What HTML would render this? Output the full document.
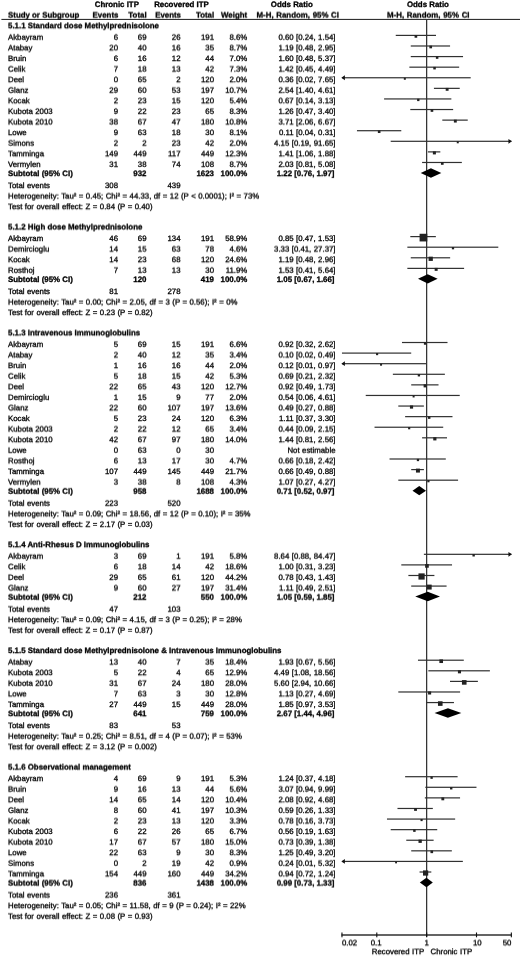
<!DOCTYPE html>
<html><head><meta charset="utf-8"><title>Forest plot</title>
<style>
html,body{margin:0;padding:0;background:#fff;}
svg{display:block;}
text{font-family:"Liberation Sans",Arial,Helvetica,sans-serif;font-size:7.82px;fill:#000;stroke:#000;stroke-width:0.3px;text-rendering:geometricPrecision;word-spacing:0.31px;}
.b{font-weight:bold;font-size:7.88px;word-spacing:0;}
.w{word-spacing:0.5px;}
</style></head><body>
<svg width="520" height="956" viewBox="0 0 520 956">
<rect width="520" height="956" fill="#fff"/>
<g id="shapes">
<rect x="1.4" y="18.9" width="518.6" height="1" fill="#1a1a1a"/>
<rect x="426.05" y="19.4" width="1.2" height="917.60" fill="#2a2a2a"/>
<rect x="395.75" y="34.80" width="40.24" height="1.2" fill="#303030"/>
<rect x="414.56" y="35.07" width="2.66" height="2.66" fill="#222"/>
<rect x="410.76" y="45.39" width="39.31" height="1.2" fill="#303030"/>
<rect x="429.38" y="45.66" width="2.67" height="2.67" fill="#222"/>
<rect x="410.76" y="55.98" width="52.28" height="1.2" fill="#303030"/>
<rect x="435.88" y="56.33" width="2.50" height="2.50" fill="#222"/>
<rect x="409.36" y="66.57" width="49.80" height="1.2" fill="#303030"/>
<rect x="433.28" y="66.90" width="2.53" height="2.53" fill="#222"/>
<rect x="341.96" y="77.16" width="128.74" height="1.2" fill="#303030"/>
<path d="M341.36 77.76l3.5 -2.4v4.8z" fill="#111"/>
<rect x="403.83" y="77.76" width="2.00" height="2.00" fill="#222"/>
<rect x="433.93" y="87.75" width="25.80" height="1.2" fill="#303030"/>
<rect x="445.70" y="87.91" width="2.87" height="2.87" fill="#222"/>
<rect x="384.08" y="98.34" width="67.27" height="1.2" fill="#303030"/>
<rect x="417.11" y="98.77" width="2.34" height="2.34" fill="#222"/>
<rect x="410.30" y="108.93" width="42.84" height="1.2" fill="#303030"/>
<rect x="430.64" y="109.21" width="2.63" height="2.63" fill="#222"/>
<rect x="442.30" y="119.52" width="25.44" height="1.2" fill="#303030"/>
<rect x="453.89" y="119.68" width="2.88" height="2.88" fill="#222"/>
<rect x="356.96" y="130.11" width="44.33" height="1.2" fill="#303030"/>
<rect x="377.86" y="130.41" width="2.61" height="2.61" fill="#222"/>
<rect x="390.70" y="140.70" width="120.65" height="1.2" fill="#303030"/>
<path d="M511.94 141.30l-3.5 -2.4v4.8z" fill="#111"/>
<rect x="456.76" y="141.30" width="2.00" height="2.00" fill="#222"/>
<rect x="427.91" y="151.29" width="12.41" height="1.2" fill="#303030"/>
<rect x="432.87" y="151.38" width="3.03" height="3.03" fill="#222"/>
<rect x="422.09" y="161.88" width="39.75" height="1.2" fill="#303030"/>
<rect x="440.94" y="162.14" width="2.67" height="2.67" fill="#222"/>
<path d="M420.71 172.97L430.96 168.27L441.33 172.97L430.96 177.67z" fill="#000"/>
<rect x="410.30" y="236.01" width="25.55" height="1.2" fill="#303030"/>
<rect x="419.59" y="233.76" width="7.69" height="7.69" fill="#222"/>
<rect x="407.35" y="246.60" width="90.95" height="1.2" fill="#303030"/>
<rect x="451.86" y="247.07" width="2.26" height="2.26" fill="#222"/>
<rect x="410.76" y="257.19" width="39.38" height="1.2" fill="#303030"/>
<rect x="428.59" y="256.66" width="4.26" height="4.26" fill="#222"/>
<rect x="407.35" y="267.78" width="56.75" height="1.2" fill="#303030"/>
<rect x="434.66" y="267.88" width="2.99" height="2.99" fill="#222"/>
<path d="M417.98 278.87L427.71 274.17L437.62 278.87L427.71 283.57z" fill="#000"/>
<rect x="401.98" y="341.91" width="45.52" height="1.2" fill="#303030"/>
<rect x="423.91" y="342.28" width="2.46" height="2.46" fill="#222"/>
<rect x="341.96" y="352.50" width="69.25" height="1.2" fill="#303030"/>
<rect x="376.03" y="353.03" width="2.14" height="2.14" fill="#222"/>
<rect x="341.96" y="363.09" width="84.03" height="1.2" fill="#303030"/>
<path d="M341.36 363.69l3.5 -2.4v4.8z" fill="#111"/>
<rect x="380.05" y="363.69" width="2.00" height="2.00" fill="#222"/>
<rect x="392.86" y="373.68" width="52.01" height="1.2" fill="#303030"/>
<rect x="417.75" y="374.12" width="2.33" height="2.33" fill="#222"/>
<rect x="411.21" y="384.27" width="27.31" height="1.2" fill="#303030"/>
<rect x="423.61" y="384.33" width="3.07" height="3.07" fill="#222"/>
<rect x="365.74" y="394.86" width="93.99" height="1.2" fill="#303030"/>
<rect x="412.61" y="395.46" width="2.00" height="2.00" fill="#222"/>
<rect x="398.30" y="405.45" width="25.58" height="1.2" fill="#303030"/>
<rect x="409.93" y="405.47" width="3.16" height="3.16" fill="#222"/>
<rect x="405.12" y="416.04" width="47.37" height="1.2" fill="#303030"/>
<rect x="427.99" y="416.43" width="2.43" height="2.43" fill="#222"/>
<rect x="374.52" y="426.63" width="68.70" height="1.2" fill="#303030"/>
<rect x="408.11" y="427.16" width="2.14" height="2.14" fill="#222"/>
<rect x="422.09" y="437.22" width="24.91" height="1.2" fill="#303030"/>
<rect x="433.24" y="437.22" width="3.20" height="3.20" fill="#222"/>
<rect x="389.53" y="458.40" width="56.26" height="1.2" fill="#303030"/>
<rect x="416.82" y="458.87" width="2.27" height="2.27" fill="#222"/>
<rect x="411.21" y="468.99" width="12.68" height="1.2" fill="#303030"/>
<rect x="415.97" y="468.61" width="3.97" height="3.97" fill="#222"/>
<rect x="398.30" y="479.58" width="59.77" height="1.2" fill="#303030"/>
<rect x="427.30" y="480.06" width="2.23" height="2.23" fill="#222"/>
<path d="M412.49 490.67L419.24 485.97L425.99 490.67L419.24 495.37z" fill="#000"/>
<rect x="423.88" y="553.71" width="87.46" height="1.2" fill="#303030"/>
<path d="M511.94 554.31l-3.5 -2.4v4.8z" fill="#111"/>
<rect x="472.45" y="554.12" width="2.38" height="2.38" fill="#222"/>
<rect x="401.29" y="564.30" width="50.74" height="1.2" fill="#303030"/>
<rect x="425.12" y="564.07" width="3.66" height="3.66" fill="#222"/>
<rect x="408.38" y="574.89" width="26.02" height="1.2" fill="#303030"/>
<rect x="418.46" y="573.38" width="6.22" height="6.22" fill="#222"/>
<rect x="411.21" y="585.48" width="35.37" height="1.2" fill="#303030"/>
<rect x="426.74" y="584.61" width="4.94" height="4.94" fill="#222"/>
<path d="M415.23 596.57L427.71 591.87L439.97 596.57L427.71 601.27z" fill="#000"/>
<rect x="417.98" y="659.61" width="45.81" height="1.2" fill="#303030"/>
<rect x="439.37" y="659.39" width="3.64" height="3.64" fill="#222"/>
<rect x="428.32" y="670.20" width="61.57" height="1.2" fill="#303030"/>
<rect x="457.92" y="670.25" width="3.09" height="3.09" fill="#222"/>
<rect x="450.00" y="680.79" width="27.89" height="1.2" fill="#303030"/>
<rect x="461.95" y="680.09" width="4.60" height="4.60" fill="#222"/>
<rect x="398.30" y="691.38" width="61.80" height="1.2" fill="#303030"/>
<rect x="428.06" y="691.44" width="3.08" height="3.08" fill="#222"/>
<rect x="425.99" y="701.97" width="27.97" height="1.2" fill="#303030"/>
<rect x="437.97" y="701.27" width="4.60" height="4.60" fill="#222"/>
<path d="M434.54 713.06L447.91 708.36L461.32 713.06L447.91 717.76z" fill="#000"/>
<rect x="405.12" y="776.10" width="52.49" height="1.2" fill="#303030"/>
<rect x="430.44" y="776.53" width="2.33" height="2.33" fill="#222"/>
<rect x="425.31" y="786.69" width="51.17" height="1.2" fill="#303030"/>
<rect x="450.05" y="787.11" width="2.36" height="2.36" fill="#222"/>
<rect x="424.84" y="797.28" width="35.22" height="1.2" fill="#303030"/>
<rect x="441.39" y="797.46" width="2.84" height="2.84" fill="#222"/>
<rect x="397.49" y="807.87" width="35.34" height="1.2" fill="#303030"/>
<rect x="414.11" y="808.05" width="2.83" height="2.83" fill="#222"/>
<rect x="386.98" y="818.46" width="68.17" height="1.2" fill="#303030"/>
<rect x="420.51" y="818.99" width="2.13" height="2.13" fill="#222"/>
<rect x="390.70" y="829.05" width="46.53" height="1.2" fill="#303030"/>
<rect x="413.16" y="829.41" width="2.47" height="2.47" fill="#222"/>
<rect x="406.26" y="839.64" width="27.36" height="1.2" fill="#303030"/>
<rect x="418.49" y="839.59" width="3.30" height="3.30" fill="#222"/>
<rect x="411.21" y="850.23" width="40.63" height="1.2" fill="#303030"/>
<rect x="430.47" y="850.51" width="2.63" height="2.63" fill="#222"/>
<rect x="341.96" y="860.82" width="120.88" height="1.2" fill="#303030"/>
<path d="M341.36 861.42l3.5 -2.4v4.8z" fill="#111"/>
<rect x="395.11" y="861.47" width="1.89" height="1.89" fill="#222"/>
<rect x="419.54" y="871.41" width="11.77" height="1.2" fill="#303030"/>
<rect x="423.00" y="870.40" width="5.22" height="5.22" fill="#222"/>
<path d="M419.84 882.50L426.43 877.80L432.82 882.50L426.43 887.20z" fill="#000"/>
<rect x="341.46" y="934.35" width="170.39" height="1.3" fill="#111"/>
<rect x="341.41" y="932.5" width="1.1" height="4.8" fill="#111"/>
<rect x="376.25" y="932.5" width="1.1" height="4.8" fill="#111"/>
<rect x="426.10" y="932.5" width="1.1" height="4.8" fill="#111"/>
<rect x="475.95" y="932.5" width="1.1" height="4.8" fill="#111"/>
<rect x="510.79" y="932.5" width="1.1" height="4.8" fill="#111"/>
</g>
<defs>
<filter id="sh1" x="0" y="0" width="520" height="956" filterUnits="userSpaceOnUse" color-interpolation-filters="sRGB"><feConvolveMatrix order="1 2" kernelMatrix="0.9 0.1" targetX="0" targetY="1" edgeMode="none" preserveAlpha="false"/></filter>
<filter id="sh2" x="0" y="0" width="520" height="956" filterUnits="userSpaceOnUse" color-interpolation-filters="sRGB"><feConvolveMatrix order="1 2" kernelMatrix="0.8 0.2" targetX="0" targetY="1" edgeMode="none" preserveAlpha="false"/></filter>
<filter id="sh3" x="0" y="0" width="520" height="956" filterUnits="userSpaceOnUse" color-interpolation-filters="sRGB"><feConvolveMatrix order="1 2" kernelMatrix="0.7 0.3" targetX="0" targetY="1" edgeMode="none" preserveAlpha="false"/></filter>
<filter id="sh4" x="0" y="0" width="520" height="956" filterUnits="userSpaceOnUse" color-interpolation-filters="sRGB"><feConvolveMatrix order="1 2" kernelMatrix="0.6 0.4" targetX="0" targetY="1" edgeMode="none" preserveAlpha="false"/></filter>
<filter id="sh5" x="0" y="0" width="520" height="956" filterUnits="userSpaceOnUse" color-interpolation-filters="sRGB"><feConvolveMatrix order="1 2" kernelMatrix="0.5 0.5" targetX="0" targetY="1" edgeMode="none" preserveAlpha="false"/></filter>
<filter id="sh6" x="0" y="0" width="520" height="956" filterUnits="userSpaceOnUse" color-interpolation-filters="sRGB"><feConvolveMatrix order="1 2" kernelMatrix="0.4 0.6" targetX="0" targetY="1" edgeMode="none" preserveAlpha="false"/></filter>
<filter id="sh7" x="0" y="0" width="520" height="956" filterUnits="userSpaceOnUse" color-interpolation-filters="sRGB"><feConvolveMatrix order="1 2" kernelMatrix="0.3 0.7" targetX="0" targetY="1" edgeMode="none" preserveAlpha="false"/></filter>
<filter id="sh8" x="0" y="0" width="520" height="956" filterUnits="userSpaceOnUse" color-interpolation-filters="sRGB"><feConvolveMatrix order="1 2" kernelMatrix="0.2 0.8" targetX="0" targetY="1" edgeMode="none" preserveAlpha="false"/></filter>
<filter id="sh9" x="0" y="0" width="520" height="956" filterUnits="userSpaceOnUse" color-interpolation-filters="sRGB"><feConvolveMatrix order="1 2" kernelMatrix="0.1 0.9" targetX="0" targetY="1" edgeMode="none" preserveAlpha="false"/></filter>
</defs>
<g id="labels0">
<text x="116.85" y="7" text-anchor="middle" class="b">Chronic ITP</text>
<text x="181.50" y="7" text-anchor="middle" class="b">Recovered ITP</text>
<text x="291.85" y="7" text-anchor="middle" class="b">Odds Ratio</text>
<text x="427.90" y="7" text-anchor="middle" class="b">Odds Ratio</text>
<text x="8.00" y="61">Bruin</text>
<text x="118.00" y="61" text-anchor="end">6</text>
<text x="146.50" y="61" text-anchor="end">16</text>
<text x="180.50" y="61" text-anchor="end">12</text>
<text x="214.00" y="61" text-anchor="end">44</text>
<text x="247.30" y="61" text-anchor="end">7.0%</text>
<text x="335.50" y="61" text-anchor="end">1.60 [0.48, 5.37]</text>
<text x="8.00" y="241">Akbayram</text>
<text x="118.00" y="241" text-anchor="end">46</text>
<text x="146.50" y="241" text-anchor="end">69</text>
<text x="180.50" y="241" text-anchor="end">134</text>
<text x="214.00" y="241" text-anchor="end">191</text>
<text x="247.30" y="241" text-anchor="end">58.9%</text>
<text x="335.50" y="241" text-anchor="end">0.85 [0.47, 1.53]</text>
<text x="8.00" y="282" class="b">Subtotal (95% CI)</text>
<text x="146.50" y="282" text-anchor="end" class="b">120</text>
<text x="214.00" y="282" text-anchor="end" class="b">419</text>
<text x="247.30" y="282" text-anchor="end" class="b">100.0%</text>
<text x="334.50" y="282" text-anchor="end" class="b">1.05 [0.67, 1.66]</text>
<text x="8.00" y="294">Total events</text>
<text x="118.00" y="294" text-anchor="end">81</text>
<text x="180.50" y="294" text-anchor="end">278</text>
<text x="8.00" y="421">Kocak</text>
<text x="118.00" y="421" text-anchor="end">5</text>
<text x="146.50" y="421" text-anchor="end">23</text>
<text x="180.50" y="421" text-anchor="end">24</text>
<text x="214.00" y="421" text-anchor="end">120</text>
<text x="247.30" y="421" text-anchor="end">6.3%</text>
<text x="335.50" y="421" text-anchor="end">1.11 [0.37, 3.30]</text>
<text x="8.00" y="474">Tamminga</text>
<text x="118.00" y="474" text-anchor="end">107</text>
<text x="146.50" y="474" text-anchor="end">449</text>
<text x="180.50" y="474" text-anchor="end">145</text>
<text x="214.00" y="474" text-anchor="end">449</text>
<text x="247.30" y="474" text-anchor="end">21.7%</text>
<text x="335.50" y="474" text-anchor="end">0.66 [0.49, 0.88]</text>
<text x="8.00" y="707">Tamminga</text>
<text x="118.00" y="707" text-anchor="end">27</text>
<text x="146.50" y="707" text-anchor="end">449</text>
<text x="180.50" y="707" text-anchor="end">15</text>
<text x="214.00" y="707" text-anchor="end">449</text>
<text x="247.30" y="707" text-anchor="end">28.0%</text>
<text x="335.50" y="707" text-anchor="end">1.85 [0.97, 3.53]</text>
<text x="8.00" y="834">Kubota 2003</text>
<text x="118.00" y="834" text-anchor="end">6</text>
<text x="146.50" y="834" text-anchor="end">22</text>
<text x="180.50" y="834" text-anchor="end">26</text>
<text x="214.00" y="834" text-anchor="end">65</text>
<text x="247.30" y="834" text-anchor="end">6.7%</text>
<text x="335.50" y="834" text-anchor="end">0.56 [0.19, 1.63]</text>
</g>
<g id="labels1" filter="url(#sh1)">
<text x="8.00" y="135">Lowe</text>
<text x="118.00" y="135" text-anchor="end">9</text>
<text x="146.50" y="135" text-anchor="end">63</text>
<text x="180.50" y="135" text-anchor="end">18</text>
<text x="214.00" y="135" text-anchor="end">30</text>
<text x="247.30" y="135" text-anchor="end">8.1%</text>
<text x="335.50" y="135" text-anchor="end">0.11 [0.04, 0.31]</text>
<text x="8.00" y="176" class="b">Subtotal (95% CI)</text>
<text x="146.50" y="176" text-anchor="end" class="b">932</text>
<text x="214.00" y="176" text-anchor="end" class="b">1623</text>
<text x="247.30" y="176" text-anchor="end" class="b">100.0%</text>
<text x="334.50" y="176" text-anchor="end" class="b">1.22 [0.76, 1.97]</text>
<text x="8.00" y="188">Total events</text>
<text x="118.00" y="188" text-anchor="end">308</text>
<text x="180.50" y="188" text-anchor="end">439</text>
<text x="8.00" y="315">Test for overall effect: Z = 0.23 (P = 0.82)</text>
<text x="8.00" y="368">Bruin</text>
<text x="118.00" y="368" text-anchor="end">1</text>
<text x="146.50" y="368" text-anchor="end">16</text>
<text x="180.50" y="368" text-anchor="end">16</text>
<text x="214.00" y="368" text-anchor="end">44</text>
<text x="247.30" y="368" text-anchor="end">2.0%</text>
<text x="335.50" y="368" text-anchor="end">0.12 [0.01, 0.97]</text>
<text x="8.00" y="653" class="b">5.1.5 Standard dose Methylprednisolone &amp; Intravenous Immunoglobulins</text>
<text x="8.00" y="728">Total events</text>
<text x="118.00" y="728" text-anchor="end">83</text>
<text x="180.50" y="728" text-anchor="end">53</text>
<text x="8.00" y="781">Akbayram</text>
<text x="118.00" y="781" text-anchor="end">4</text>
<text x="146.50" y="781" text-anchor="end">69</text>
<text x="180.50" y="781" text-anchor="end">9</text>
<text x="214.00" y="781" text-anchor="end">191</text>
<text x="247.30" y="781" text-anchor="end">5.3%</text>
<text x="335.50" y="781" text-anchor="end">1.24 [0.37, 4.18]</text>
</g>
<g id="labels2" filter="url(#sh2)">
<text x="8.00" y="82">Deel</text>
<text x="118.00" y="82" text-anchor="end">0</text>
<text x="146.50" y="82" text-anchor="end">65</text>
<text x="180.50" y="82" text-anchor="end">2</text>
<text x="214.00" y="82" text-anchor="end">120</text>
<text x="247.30" y="82" text-anchor="end">2.0%</text>
<text x="335.50" y="82" text-anchor="end">0.36 [0.02, 7.65]</text>
<text x="8.00" y="209">Test for overall effect: Z = 0.84 (P = 0.40)</text>
<text x="8.00" y="262">Kocak</text>
<text x="118.00" y="262" text-anchor="end">14</text>
<text x="146.50" y="262" text-anchor="end">23</text>
<text x="180.50" y="262" text-anchor="end">68</text>
<text x="214.00" y="262" text-anchor="end">120</text>
<text x="247.30" y="262" text-anchor="end">24.6%</text>
<text x="335.50" y="262" text-anchor="end">1.19 [0.48, 2.96]</text>
<text x="8.00" y="442">Kubota 2010</text>
<text x="118.00" y="442" text-anchor="end">42</text>
<text x="146.50" y="442" text-anchor="end">67</text>
<text x="180.50" y="442" text-anchor="end">97</text>
<text x="214.00" y="442" text-anchor="end">180</text>
<text x="247.30" y="442" text-anchor="end">14.0%</text>
<text x="335.50" y="442" text-anchor="end">1.44 [0.81, 2.56]</text>
<text x="8.00" y="547" class="b">5.1.4 Anti-Rhesus D Immunoglobulins</text>
<text x="8.00" y="622">Heterogeneity: Tau² = 0.09; Chi² = 4.15, df = 3 (P = 0.25); I² = 28%</text>
<text x="8.00" y="675">Kubota 2003</text>
<text x="118.00" y="675" text-anchor="end">5</text>
<text x="146.50" y="675" text-anchor="end">22</text>
<text x="180.50" y="675" text-anchor="end">4</text>
<text x="214.00" y="675" text-anchor="end">65</text>
<text x="247.30" y="675" text-anchor="end">12.9%</text>
<text x="335.50" y="675" text-anchor="end">4.49 [1.08, 18.56]</text>
<text x="8.00" y="716" class="b">Subtotal (95% CI)</text>
<text x="146.50" y="716" text-anchor="end" class="b">641</text>
<text x="214.00" y="716" text-anchor="end" class="b">759</text>
<text x="247.30" y="716" text-anchor="end" class="b">100.0%</text>
<text x="334.50" y="716" text-anchor="end" class="b">2.67 [1.44, 4.96]</text>
<text x="8.00" y="855">Lowe</text>
<text x="118.00" y="855" text-anchor="end">22</text>
<text x="146.50" y="855" text-anchor="end">63</text>
<text x="180.50" y="855" text-anchor="end">9</text>
<text x="214.00" y="855" text-anchor="end">30</text>
<text x="247.30" y="855" text-anchor="end">8.3%</text>
<text x="335.50" y="855" text-anchor="end">1.25 [0.49, 3.20]</text>
<text x="8.00" y="908">Heterogeneity: Tau² = 0.05; Chi² = 11.58, df = 9 (P = 0.24); I² = 22%</text>
<text x="424.20" y="954" text-anchor="end">Recovered ITP</text>
<text x="430.60" y="954">Chronic ITP</text>
</g>
<g id="labels3" filter="url(#sh3)">
<text x="8.00" y="28" class="b">5.1.1 Standard dose Methylprednisolone</text>
<text x="8.00" y="103">Kocak</text>
<text x="118.00" y="103" text-anchor="end">2</text>
<text x="146.50" y="103" text-anchor="end">23</text>
<text x="180.50" y="103" text-anchor="end">15</text>
<text x="214.00" y="103" text-anchor="end">120</text>
<text x="247.30" y="103" text-anchor="end">5.4%</text>
<text x="335.50" y="103" text-anchor="end">0.67 [0.14, 3.13]</text>
<text x="8.00" y="156">Tamminga</text>
<text x="118.00" y="156" text-anchor="end">149</text>
<text x="146.50" y="156" text-anchor="end">449</text>
<text x="180.50" y="156" text-anchor="end">117</text>
<text x="214.00" y="156" text-anchor="end">449</text>
<text x="247.30" y="156" text-anchor="end">12.3%</text>
<text x="335.50" y="156" text-anchor="end">1.41 [1.06, 1.88]</text>
<text x="8.00" y="389">Deel</text>
<text x="118.00" y="389" text-anchor="end">22</text>
<text x="146.50" y="389" text-anchor="end">65</text>
<text x="180.50" y="389" text-anchor="end">43</text>
<text x="214.00" y="389" text-anchor="end">120</text>
<text x="247.30" y="389" text-anchor="end">12.7%</text>
<text x="335.50" y="389" text-anchor="end">0.92 [0.49, 1.73]</text>
<text x="8.00" y="569">Celik</text>
<text x="118.00" y="569" text-anchor="end">6</text>
<text x="146.50" y="569" text-anchor="end">18</text>
<text x="180.50" y="569" text-anchor="end">14</text>
<text x="214.00" y="569" text-anchor="end">42</text>
<text x="247.30" y="569" text-anchor="end">18.6%</text>
<text x="335.50" y="569" text-anchor="end">1.00 [0.31, 3.23]</text>
<text x="8.00" y="749">Test for overall effect: Z = 3.12 (P = 0.002)</text>
<text x="8.00" y="802">Deel</text>
<text x="118.00" y="802" text-anchor="end">14</text>
<text x="146.50" y="802" text-anchor="end">65</text>
<text x="180.50" y="802" text-anchor="end">14</text>
<text x="214.00" y="802" text-anchor="end">120</text>
<text x="247.30" y="802" text-anchor="end">10.4%</text>
<text x="335.50" y="802" text-anchor="end">2.08 [0.92, 4.68]</text>
</g>
<g id="labels4" filter="url(#sh4)">
<text x="8.00" y="50">Atabay</text>
<text x="118.00" y="50" text-anchor="end">20</text>
<text x="146.50" y="50" text-anchor="end">40</text>
<text x="180.50" y="50" text-anchor="end">16</text>
<text x="214.00" y="50" text-anchor="end">35</text>
<text x="247.30" y="50" text-anchor="end">8.7%</text>
<text x="335.50" y="50" text-anchor="end">1.19 [0.48, 2.95]</text>
<text x="8.00" y="335" class="b">5.1.3 Intravenous Immunoglobulins</text>
<text x="8.00" y="410">Glanz</text>
<text x="118.00" y="410" text-anchor="end">22</text>
<text x="146.50" y="410" text-anchor="end">60</text>
<text x="180.50" y="410" text-anchor="end">107</text>
<text x="214.00" y="410" text-anchor="end">197</text>
<text x="247.30" y="410" text-anchor="end">13.6%</text>
<text x="335.50" y="410" text-anchor="end">0.49 [0.27, 0.88]</text>
<text x="8.00" y="463">Rosthoj</text>
<text x="118.00" y="463" text-anchor="end">6</text>
<text x="146.50" y="463" text-anchor="end">13</text>
<text x="180.50" y="463" text-anchor="end">17</text>
<text x="214.00" y="463" text-anchor="end">30</text>
<text x="247.30" y="463" text-anchor="end">4.7%</text>
<text x="335.50" y="463" text-anchor="end">0.66 [0.18, 2.42]</text>
<text x="8.00" y="516">Heterogeneity: Tau² = 0.09; Chi² = 18.56, df = 12 (P = 0.10); I² = 35%</text>
<text x="8.00" y="696">Lowe</text>
<text x="118.00" y="696" text-anchor="end">7</text>
<text x="146.50" y="696" text-anchor="end">63</text>
<text x="180.50" y="696" text-anchor="end">3</text>
<text x="214.00" y="696" text-anchor="end">30</text>
<text x="247.30" y="696" text-anchor="end">12.8%</text>
<text x="335.50" y="696" text-anchor="end">1.13 [0.27, 4.69]</text>
<text x="8.00" y="876">Tamminga</text>
<text x="118.00" y="876" text-anchor="end">154</text>
<text x="146.50" y="876" text-anchor="end">449</text>
<text x="180.50" y="876" text-anchor="end">160</text>
<text x="214.00" y="876" text-anchor="end">449</text>
<text x="247.30" y="876" text-anchor="end">34.2%</text>
<text x="335.50" y="876" text-anchor="end">0.94 [0.72, 1.24]</text>
<text x="341.96" y="945">0.02</text>
<text x="376.20" y="945" text-anchor="middle">0.1</text>
<text x="426.65" y="945" text-anchor="middle">1</text>
<text x="477.30" y="945" text-anchor="middle">10</text>
<text x="511.34" y="945" text-anchor="end">50</text>
</g>
<g id="labels5" filter="url(#sh5)">
<text x="8.00" y="124">Kubota 2010</text>
<text x="118.00" y="124" text-anchor="end">38</text>
<text x="146.50" y="124" text-anchor="end">67</text>
<text x="180.50" y="124" text-anchor="end">47</text>
<text x="214.00" y="124" text-anchor="end">180</text>
<text x="247.30" y="124" text-anchor="end">10.8%</text>
<text x="335.50" y="124" text-anchor="end">3.71 [2.06, 6.67]</text>
<text x="8.00" y="229" class="b">5.1.2 High dose Methylprednisolone</text>
<text x="8.00" y="357">Atabay</text>
<text x="118.00" y="357" text-anchor="end">2</text>
<text x="146.50" y="357" text-anchor="end">40</text>
<text x="180.50" y="357" text-anchor="end">12</text>
<text x="214.00" y="357" text-anchor="end">35</text>
<text x="247.30" y="357" text-anchor="end">3.4%</text>
<text x="335.50" y="357" text-anchor="end">0.10 [0.02, 0.49]</text>
<text x="8.00" y="590">Glanz</text>
<text x="118.00" y="590" text-anchor="end">9</text>
<text x="146.50" y="590" text-anchor="end">60</text>
<text x="180.50" y="590" text-anchor="end">27</text>
<text x="214.00" y="590" text-anchor="end">197</text>
<text x="247.30" y="590" text-anchor="end">31.4%</text>
<text x="335.50" y="590" text-anchor="end">1.11 [0.49, 2.51]</text>
<text x="8.00" y="823">Kocak</text>
<text x="118.00" y="823" text-anchor="end">2</text>
<text x="146.50" y="823" text-anchor="end">23</text>
<text x="180.50" y="823" text-anchor="end">13</text>
<text x="214.00" y="823" text-anchor="end">120</text>
<text x="247.30" y="823" text-anchor="end">3.3%</text>
<text x="335.50" y="823" text-anchor="end">0.78 [0.16, 3.73]</text>
</g>
<g id="labels6" filter="url(#sh6)">
<text x="8.00" y="17" class="b">Study or Subgroup</text>
<text x="118.40" y="17" text-anchor="end" class="b">Events</text>
<text x="146.60" y="17" text-anchor="end" class="b">Total</text>
<text x="181.00" y="17" text-anchor="end" class="b">Events</text>
<text x="214.20" y="17" text-anchor="end" class="b">Total</text>
<text x="247.20" y="17" text-anchor="end" class="b">Weight</text>
<text x="339.00" y="17" text-anchor="end" class="b w">M-H, Random, 95% CI</text>
<text x="428.30" y="17" text-anchor="middle" class="b w">M-H, Random, 95% CI</text>
<text x="8.00" y="71">Celik</text>
<text x="118.00" y="71" text-anchor="end">7</text>
<text x="146.50" y="71" text-anchor="end">18</text>
<text x="180.50" y="71" text-anchor="end">13</text>
<text x="214.00" y="71" text-anchor="end">42</text>
<text x="247.30" y="71" text-anchor="end">7.3%</text>
<text x="335.50" y="71" text-anchor="end">1.42 [0.45, 4.49]</text>
<text x="8.00" y="198">Heterogeneity: Tau² = 0.45; Chi² = 44.33, df = 12 (P < 0.0001); I² = 73%</text>
<text x="8.00" y="251">Demircioglu</text>
<text x="118.00" y="251" text-anchor="end">14</text>
<text x="146.50" y="251" text-anchor="end">15</text>
<text x="180.50" y="251" text-anchor="end">63</text>
<text x="214.00" y="251" text-anchor="end">78</text>
<text x="247.30" y="251" text-anchor="end">4.6%</text>
<text x="335.50" y="251" text-anchor="end">3.33 [0.41, 27.37]</text>
<text x="8.00" y="304">Heterogeneity: Tau² = 0.00; Chi² = 2.05, df = 3 (P = 0.56); I² = 0%</text>
<text x="8.00" y="431">Kubota 2003</text>
<text x="118.00" y="431" text-anchor="end">2</text>
<text x="146.50" y="431" text-anchor="end">22</text>
<text x="180.50" y="431" text-anchor="end">12</text>
<text x="214.00" y="431" text-anchor="end">65</text>
<text x="247.30" y="431" text-anchor="end">3.4%</text>
<text x="335.50" y="431" text-anchor="end">0.44 [0.09, 2.15]</text>
<text x="8.00" y="484">Vermylen</text>
<text x="118.00" y="484" text-anchor="end">3</text>
<text x="146.50" y="484" text-anchor="end">38</text>
<text x="180.50" y="484" text-anchor="end">8</text>
<text x="214.00" y="484" text-anchor="end">108</text>
<text x="247.30" y="484" text-anchor="end">4.3%</text>
<text x="335.50" y="484" text-anchor="end">1.07 [0.27, 4.27]</text>
<text x="8.00" y="664">Atabay</text>
<text x="118.00" y="664" text-anchor="end">13</text>
<text x="146.50" y="664" text-anchor="end">40</text>
<text x="180.50" y="664" text-anchor="end">7</text>
<text x="214.00" y="664" text-anchor="end">35</text>
<text x="247.30" y="664" text-anchor="end">18.4%</text>
<text x="335.50" y="664" text-anchor="end">1.93 [0.67, 5.56]</text>
<text x="8.00" y="769" class="b">5.1.6 Observational management</text>
<text x="8.00" y="844">Kubota 2010</text>
<text x="118.00" y="844" text-anchor="end">17</text>
<text x="146.50" y="844" text-anchor="end">67</text>
<text x="180.50" y="844" text-anchor="end">57</text>
<text x="214.00" y="844" text-anchor="end">180</text>
<text x="247.30" y="844" text-anchor="end">15.0%</text>
<text x="335.50" y="844" text-anchor="end">0.73 [0.39, 1.38]</text>
<text x="8.00" y="885" class="b">Subtotal (95% CI)</text>
<text x="146.50" y="885" text-anchor="end" class="b">836</text>
<text x="214.00" y="885" text-anchor="end" class="b">1438</text>
<text x="247.30" y="885" text-anchor="end" class="b">100.0%</text>
<text x="334.50" y="885" text-anchor="end" class="b">0.99 [0.73, 1.33]</text>
<text x="8.00" y="897">Total events</text>
<text x="118.00" y="897" text-anchor="end">236</text>
<text x="180.50" y="897" text-anchor="end">361</text>
</g>
<g id="labels7" filter="url(#sh7)">
<text x="8.00" y="145">Simons</text>
<text x="118.00" y="145" text-anchor="end">2</text>
<text x="146.50" y="145" text-anchor="end">2</text>
<text x="180.50" y="145" text-anchor="end">23</text>
<text x="214.00" y="145" text-anchor="end">42</text>
<text x="247.30" y="145" text-anchor="end">2.0%</text>
<text x="335.50" y="145" text-anchor="end">4.15 [0.19, 91.65]</text>
<text x="8.00" y="378">Celik</text>
<text x="118.00" y="378" text-anchor="end">5</text>
<text x="146.50" y="378" text-anchor="end">18</text>
<text x="180.50" y="378" text-anchor="end">15</text>
<text x="214.00" y="378" text-anchor="end">42</text>
<text x="247.30" y="378" text-anchor="end">5.3%</text>
<text x="335.50" y="378" text-anchor="end">0.69 [0.21, 2.32]</text>
<text x="8.00" y="558">Akbayram</text>
<text x="118.00" y="558" text-anchor="end">3</text>
<text x="146.50" y="558" text-anchor="end">69</text>
<text x="180.50" y="558" text-anchor="end">1</text>
<text x="214.00" y="558" text-anchor="end">191</text>
<text x="247.30" y="558" text-anchor="end">5.8%</text>
<text x="335.50" y="558" text-anchor="end">8.64 [0.88, 84.47]</text>
<text x="8.00" y="599" class="b">Subtotal (95% CI)</text>
<text x="146.50" y="599" text-anchor="end" class="b">212</text>
<text x="214.00" y="599" text-anchor="end" class="b">550</text>
<text x="247.30" y="599" text-anchor="end" class="b">100.0%</text>
<text x="334.50" y="599" text-anchor="end" class="b">1.05 [0.59, 1.85]</text>
<text x="8.00" y="611">Total events</text>
<text x="118.00" y="611" text-anchor="end">47</text>
<text x="180.50" y="611" text-anchor="end">103</text>
<text x="8.00" y="738">Heterogeneity: Tau² = 0.25; Chi² = 8.51, df = 4 (P = 0.07); I² = 53%</text>
<text x="8.00" y="791">Bruin</text>
<text x="118.00" y="791" text-anchor="end">9</text>
<text x="146.50" y="791" text-anchor="end">16</text>
<text x="180.50" y="791" text-anchor="end">13</text>
<text x="214.00" y="791" text-anchor="end">44</text>
<text x="247.30" y="791" text-anchor="end">5.6%</text>
<text x="335.50" y="791" text-anchor="end">3.07 [0.94, 9.99]</text>
</g>
<g id="labels8" filter="url(#sh8)">
<text x="8.00" y="39">Akbayram</text>
<text x="118.00" y="39" text-anchor="end">6</text>
<text x="146.50" y="39" text-anchor="end">69</text>
<text x="180.50" y="39" text-anchor="end">26</text>
<text x="214.00" y="39" text-anchor="end">191</text>
<text x="247.30" y="39" text-anchor="end">8.6%</text>
<text x="335.50" y="39" text-anchor="end">0.60 [0.24, 1.54]</text>
<text x="8.00" y="92">Glanz</text>
<text x="118.00" y="92" text-anchor="end">29</text>
<text x="146.50" y="92" text-anchor="end">60</text>
<text x="180.50" y="92" text-anchor="end">53</text>
<text x="214.00" y="92" text-anchor="end">197</text>
<text x="247.30" y="92" text-anchor="end">10.7%</text>
<text x="335.50" y="92" text-anchor="end">2.54 [1.40, 4.61]</text>
<text x="8.00" y="272">Rosthoj</text>
<text x="118.00" y="272" text-anchor="end">7</text>
<text x="146.50" y="272" text-anchor="end">13</text>
<text x="180.50" y="272" text-anchor="end">13</text>
<text x="214.00" y="272" text-anchor="end">30</text>
<text x="247.30" y="272" text-anchor="end">11.9%</text>
<text x="335.50" y="272" text-anchor="end">1.53 [0.41, 5.64]</text>
<text x="8.00" y="452">Lowe</text>
<text x="118.00" y="452" text-anchor="end">0</text>
<text x="146.50" y="452" text-anchor="end">63</text>
<text x="180.50" y="452" text-anchor="end">0</text>
<text x="214.00" y="452" text-anchor="end">30</text>
<text x="335.50" y="452" text-anchor="end">Not estimable</text>
<text x="8.00" y="493" class="b">Subtotal (95% CI)</text>
<text x="146.50" y="493" text-anchor="end" class="b">958</text>
<text x="214.00" y="493" text-anchor="end" class="b">1688</text>
<text x="247.30" y="493" text-anchor="end" class="b">100.0%</text>
<text x="334.50" y="493" text-anchor="end" class="b">0.71 [0.52, 0.97]</text>
<text x="8.00" y="505">Total events</text>
<text x="118.00" y="505" text-anchor="end">223</text>
<text x="180.50" y="505" text-anchor="end">520</text>
<text x="8.00" y="632">Test for overall effect: Z = 0.17 (P = 0.87)</text>
<text x="8.00" y="685">Kubota 2010</text>
<text x="118.00" y="685" text-anchor="end">31</text>
<text x="146.50" y="685" text-anchor="end">67</text>
<text x="180.50" y="685" text-anchor="end">24</text>
<text x="214.00" y="685" text-anchor="end">180</text>
<text x="247.30" y="685" text-anchor="end">28.0%</text>
<text x="335.50" y="685" text-anchor="end">5.60 [2.94, 10.66]</text>
<text x="8.00" y="865">Simons</text>
<text x="118.00" y="865" text-anchor="end">0</text>
<text x="146.50" y="865" text-anchor="end">2</text>
<text x="180.50" y="865" text-anchor="end">19</text>
<text x="214.00" y="865" text-anchor="end">42</text>
<text x="247.30" y="865" text-anchor="end">0.9%</text>
<text x="335.50" y="865" text-anchor="end">0.24 [0.01, 5.32]</text>
<text x="8.00" y="918">Test for overall effect: Z = 0.08 (P = 0.93)</text>
</g>
<g id="labels9" filter="url(#sh9)">
<text x="8.00" y="113">Kubota 2003</text>
<text x="118.00" y="113" text-anchor="end">9</text>
<text x="146.50" y="113" text-anchor="end">22</text>
<text x="180.50" y="113" text-anchor="end">23</text>
<text x="214.00" y="113" text-anchor="end">65</text>
<text x="247.30" y="113" text-anchor="end">8.3%</text>
<text x="335.50" y="113" text-anchor="end">1.26 [0.47, 3.40]</text>
<text x="8.00" y="166">Vermylen</text>
<text x="118.00" y="166" text-anchor="end">31</text>
<text x="146.50" y="166" text-anchor="end">38</text>
<text x="180.50" y="166" text-anchor="end">74</text>
<text x="214.00" y="166" text-anchor="end">108</text>
<text x="247.30" y="166" text-anchor="end">8.7%</text>
<text x="335.50" y="166" text-anchor="end">2.03 [0.81, 5.08]</text>
<text x="8.00" y="346">Akbayram</text>
<text x="118.00" y="346" text-anchor="end">5</text>
<text x="146.50" y="346" text-anchor="end">69</text>
<text x="180.50" y="346" text-anchor="end">15</text>
<text x="214.00" y="346" text-anchor="end">191</text>
<text x="247.30" y="346" text-anchor="end">6.6%</text>
<text x="335.50" y="346" text-anchor="end">0.92 [0.32, 2.62]</text>
<text x="8.00" y="399">Demircioglu</text>
<text x="118.00" y="399" text-anchor="end">1</text>
<text x="146.50" y="399" text-anchor="end">15</text>
<text x="180.50" y="399" text-anchor="end">9</text>
<text x="214.00" y="399" text-anchor="end">77</text>
<text x="247.30" y="399" text-anchor="end">2.0%</text>
<text x="335.50" y="399" text-anchor="end">0.54 [0.06, 4.61]</text>
<text x="8.00" y="526">Test for overall effect: Z = 2.17 (P = 0.03)</text>
<text x="8.00" y="579">Deel</text>
<text x="118.00" y="579" text-anchor="end">29</text>
<text x="146.50" y="579" text-anchor="end">65</text>
<text x="180.50" y="579" text-anchor="end">61</text>
<text x="214.00" y="579" text-anchor="end">120</text>
<text x="247.30" y="579" text-anchor="end">44.2%</text>
<text x="335.50" y="579" text-anchor="end">0.78 [0.43, 1.43]</text>
<text x="8.00" y="812">Glanz</text>
<text x="118.00" y="812" text-anchor="end">8</text>
<text x="146.50" y="812" text-anchor="end">60</text>
<text x="180.50" y="812" text-anchor="end">41</text>
<text x="214.00" y="812" text-anchor="end">197</text>
<text x="247.30" y="812" text-anchor="end">10.3%</text>
<text x="335.50" y="812" text-anchor="end">0.59 [0.26, 1.33]</text>
</g>
</svg>
</body></html>
